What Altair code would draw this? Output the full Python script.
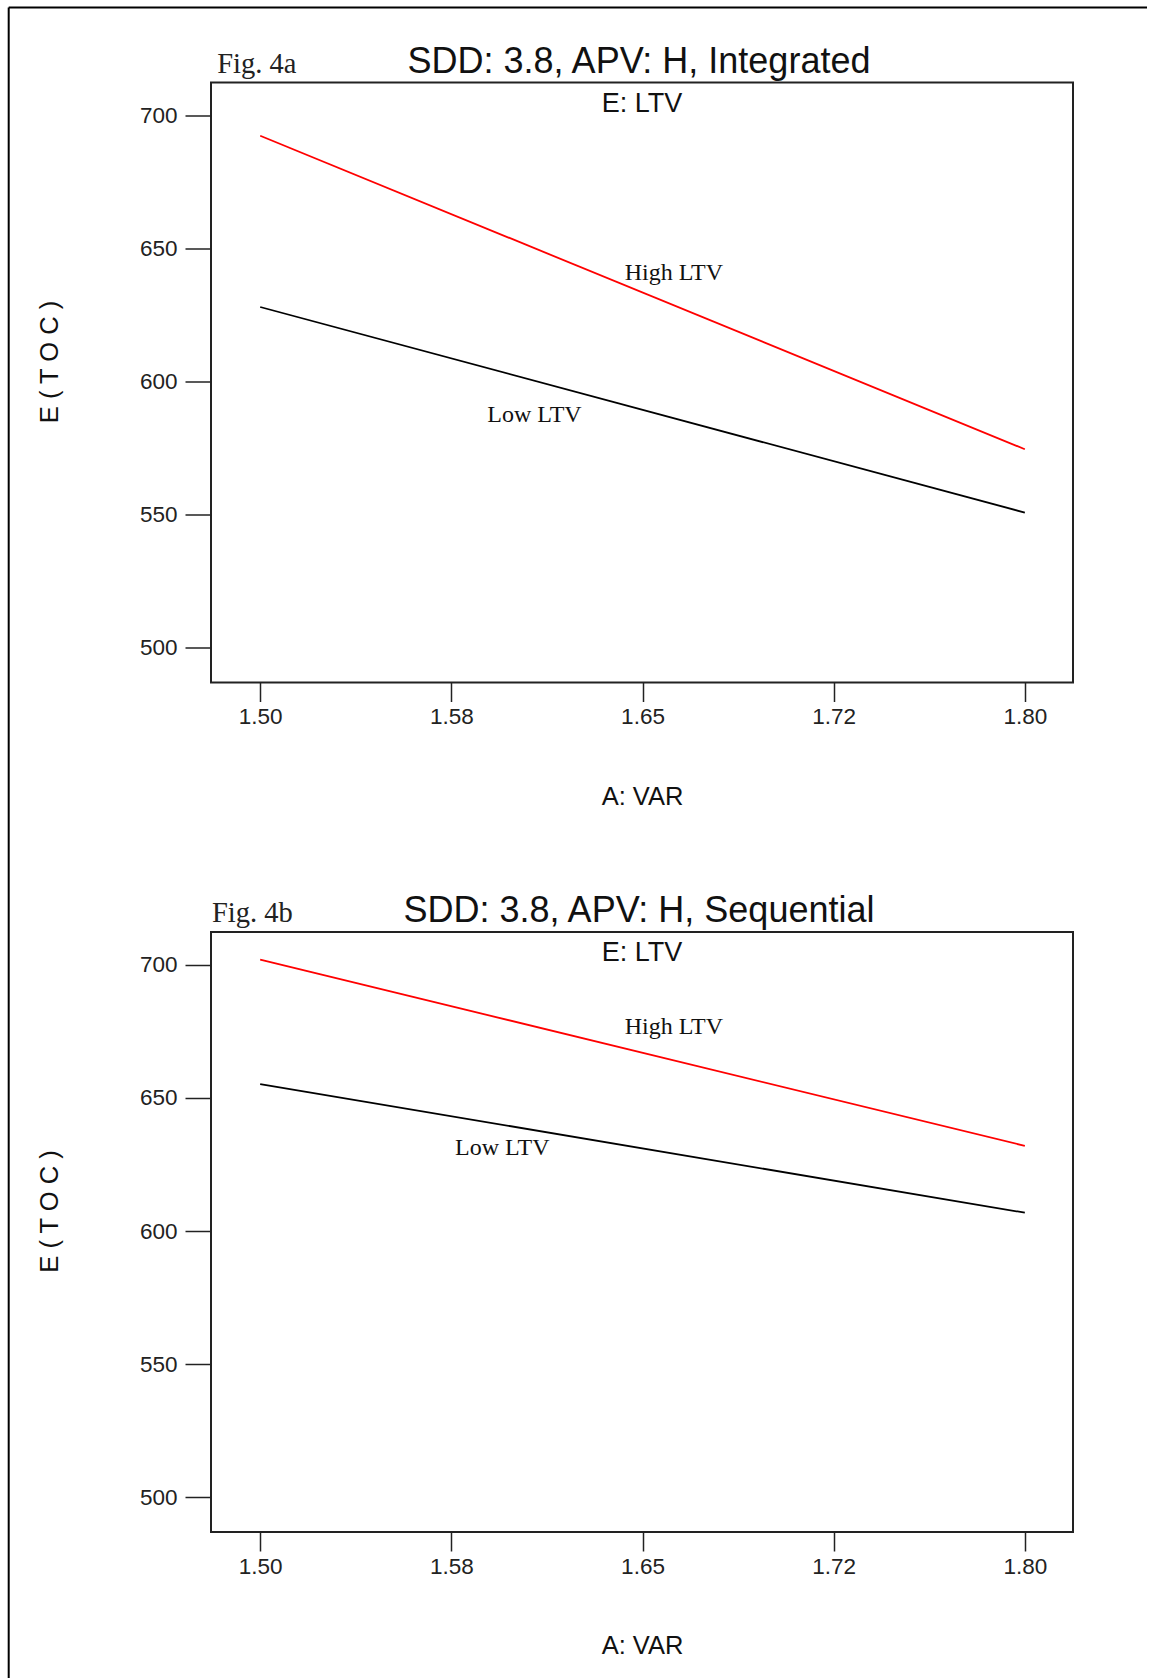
import altair as alt
import pandas as pd

# ---- data ----
var_x = [1.50, 1.80]
int_high = [692.3, 574.6]
int_low = [628.0, 550.8]
seq_high = [701.9, 632.0]
seq_low = [655.2, 606.9]
series_names = ["High LTV", "Low LTV"]
series_colors = ["#ff0000", "#000000"]
int_label_x = [1.6623, 1.6076]
int_label_y = [640.9, 587.3]
seq_label_x = [1.6623, 1.595]
seq_label_y = [676.7, 631.2]
x_ticks = [1.5, 1.575, 1.65, 1.725, 1.8]
x_tick_labels = ["1.50", "1.58", "1.65", "1.72", "1.80"]
y_ticks = [500, 550, 600, 650, 700]
titles = ["SDD: 3.8, APV: H, Integrated", "SDD: 3.8, APV: H, Sequential"]
figs = ["Fig. 4a", "Fig. 4b"]
factor_label = "E: LTV"
x_title = "A: VAR"
y_title = "E ( T O C )"

SANS = "Liberation Sans"
SERIF = "Liberation Serif"
W, H = 862, 600

label_expr = "[" + ",".join("'%s'" % s for s in x_tick_labels) + "][indexof([" + \
    ",".join(str(v) for v in x_ticks) + "], datum.value)]"

xscale = alt.Scale(domain=[1.4807, 1.8189], nice=False, zero=False)
yscale = alt.Scale(domain=[487.0, 712.3], nice=False, zero=False)


def text_layer(txt, font, size, x, y, align="center", baseline="middle", color="#111"):
    return alt.Chart(pd.DataFrame({"t": [txt]})).mark_text(
        font=font, fontSize=size, color=color, align=align, baseline=baseline
    ).encode(x=alt.value(x), y=alt.value(y), text="t:N")


def panel(idx, high, low, lab_x, lab_y, fig_x, border=False):
    lines = pd.DataFrame({
        "var": var_x + var_x,
        "toc": high + low,
        "series": [series_names[0]] * len(var_x) + [series_names[1]] * len(var_x),
    })
    labels = pd.DataFrame({"var": lab_x, "toc": lab_y, "label": series_names})

    xaxis = alt.Axis(values=x_ticks, labelExpr=label_expr, tickSize=19, tickWidth=1.5,
                     tickColor="#222", labelPadding=4, labelFontSize=22.5, labelFont=SANS,
                     labelColor="#222", domain=False, grid=False,
                     title=x_title, titleFont=SANS, titleFontSize=25.5,
                     titleFontWeight="normal", titleColor="#111",
                     titleY=113.5, titleBaseline="middle")
    yaxis = alt.Axis(values=y_ticks, tickSize=26, tickWidth=1.5, tickColor="#222",
                     labelPadding=8, labelFontSize=22.5, labelFont=SANS, labelColor="#222",
                     domain=False, grid=False,
                     title=y_title, titleFont=SANS, titleFontSize=25.5,
                     titleFontWeight="normal", titleColor="#111",
                     titleX=-161.8, titleY=279, titleAngle=270,
                     titleBaseline="middle", titleAlign="center")

    line_layer = alt.Chart(lines).mark_line(strokeWidth=1.8, clip=True).encode(
        x=alt.X("var:Q", scale=xscale, axis=xaxis),
        y=alt.Y("toc:Q", scale=yscale, axis=yaxis),
        color=alt.Color("series:N", scale=alt.Scale(domain=series_names, range=series_colors),
                        legend=None),
        detail="series:N",
    )
    label_layer = alt.Chart(labels).mark_text(font=SERIF, fontSize=24, color="#111",
                                              align="center", baseline="middle").encode(
        x=alt.X("var:Q", scale=xscale),
        y=alt.Y("toc:Q", scale=yscale),
        text="label:N",
    )
    factor_layer = text_layer(factor_label, SANS, 27, W / 2, 21.4)
    fig_layer = text_layer(figs[idx], SERIF, 28.5, fig_x, -9.7, align="left",
                           baseline="alphabetic", color="#222")
    title_layer = text_layer(titles[idx], SANS, 36, 428, -9.7, baseline="alphabetic")

    layers = [line_layer, label_layer, factor_layer, fig_layer, title_layer]
    if border:
        one = pd.DataFrame({"a": [0]})
        top = alt.Chart(one).mark_rule(color="#000", strokeWidth=2).encode(
            x=alt.value(-202.3), x2=alt.value(936), y=alt.value(-74.9))
        left = alt.Chart(one).mark_rule(color="#000", strokeWidth=2).encode(
            x=alt.value(-202.3), y=alt.value(-74.9), y2=alt.value(1596))
        layers += [top, left]

    return alt.layer(*layers).properties(width=W, height=H)


p1 = panel(0, int_high, int_low, int_label_x, int_label_y, 6.2, border=True)
p2 = panel(1, seq_high, seq_low, seq_label_x, seq_label_y, 1.0)

chart = alt.vconcat(p1, p2, spacing=249.5, bounds="flush").properties(
    padding={"left": 6, "top": 5.5, "right": 0, "bottom": 0},
    background="white",
).configure_view(stroke="#222", strokeWidth=2)

chart.save("out.html", embed_options={"renderer": "svg", "actions": False})
